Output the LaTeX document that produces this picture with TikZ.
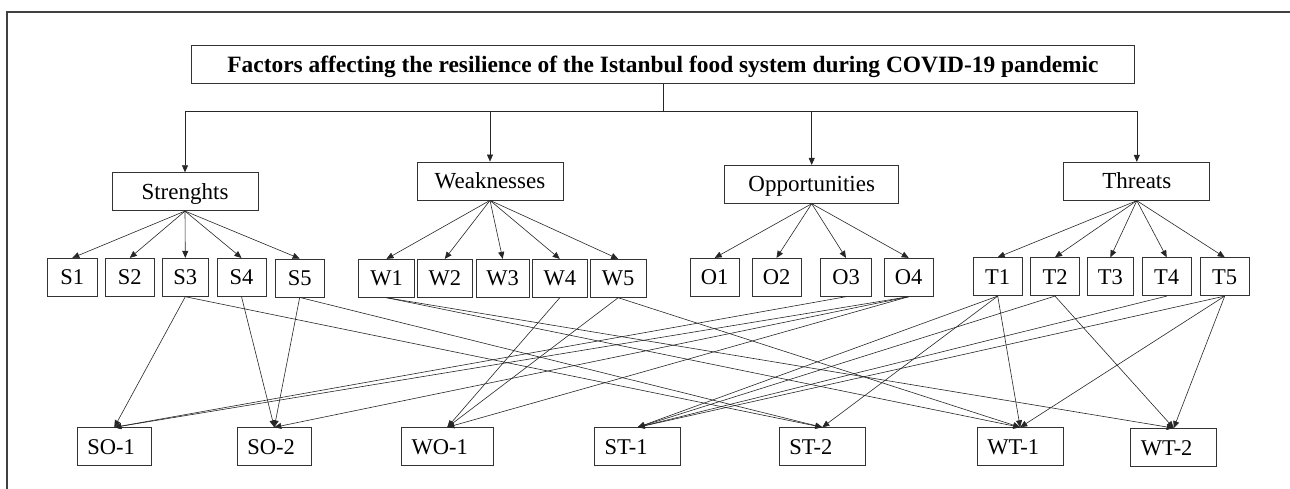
\documentclass[tikz,border=0pt]{standalone}
\usepackage{fontspec}
\setmainfont{Liberation Serif}
\usetikzlibrary{arrows.meta}
\begin{document}
\begin{tikzpicture}[x=1pt,y=-1pt,
  every node/.style={draw=black!80, line width=0.8pt, inner sep=0pt, minimum height=38pt, text height=15pt, text depth=0pt},
  box/.style={minimum width=#1, font=\fontsize{22.5}{26}\selectfont},
  hbox/.style={minimum width=#1, font=\fontsize{23}{27}\selectfont},
  lbox/.style={inner xsep=10pt, text width=#1, align=left, font=\fontsize{22.5}{26}\selectfont},
  conn/.style={line width=0.6pt, draw=black!85},
  arr/.style={conn, -{Triangle[length=7pt,width=6pt]}}]
\useasboundingbox (0,0) rectangle (1290,489);
\draw[line width=1.2pt, black!75] (7,489) -- (7,12) -- (1290,12);
% title
\node[minimum width=942.6pt, minimum height=37.6pt, text height=16pt, font=\bfseries\fontsize{23.4}{28}\selectfont] (title) at (663,64.5)
  {Factors affecting the resilience of the Istanbul food system during COVID-19 pandemic};
% headers
\node[hbox=146pt] (Str) at (185,191.7) {Strenghts};
\node[hbox=146pt] (Wea) at (490,181) {Weaknesses};
\node[hbox=173.8pt] (Opp) at (811.7,184.3) {Opportunities};
\node[hbox=146pt] (Thr) at (1136.8,181.3) {Threats};
% items
\node[box=49.3pt] (S1) at (72.3,277.3) {S1};
\node[box=49pt] (S2) at (129.8,277.3) {S2};
\node[box=46.7pt] (S3) at (185.3,277.3) {S3};
\node[box=49pt] (S4) at (241.5,277.3) {S4};
\node[box=49.3pt] (S5) at (299.7,278) {S5};
\node[box=55.6pt] (W1) at (386.5,278.3) {W1};
\node[box=55pt] (W2) at (444.8,278.3) {W2};
\node[box=52.7pt] (W3) at (502.7,278.3) {W3};
\node[box=55pt] (W4) at (559.8,278.3) {W4};
\node[box=55.7pt] (W5) at (618.2,278.3) {W5};
\node[box=49.3pt] (O1) at (714.7,277.3) {O1};
\node[box=49pt] (O2) at (776.5,277.3) {O2};
\node[box=51.2pt] (O3) at (846,277.3) {O3};
\node[box=49.3pt] (O4) at (908.7,277.3) {O4};
\node[box=49.4pt] (T1) at (997.7,276.7) {T1};
\node[box=49.3pt] (T2) at (1055,276.7) {T2};
\node[box=46.8pt] (T3) at (1110.4,276.7) {T3};
\node[box=49.3pt] (T4) at (1166.7,276.7) {T4};
\node[box=49.3pt] (T5) at (1224.7,276.7) {T5};
% strategies
\node[lbox=54pt] (SO1) at (114.3,446.7) {SO-1};
\node[lbox=54pt] (SO2) at (274.3,446.7) {SO-2};
\node[lbox=71.3pt] (WO1) at (447.3,446.7) {WO-1};
\node[lbox=66pt] (ST1) at (637.7,446.7) {ST-1};
\node[lbox=65.8pt] (ST2) at (822.3,446.7) {ST-2};
\node[lbox=65.7pt] (WT1) at (1020.2,446.7) {WT-1};
\node[lbox=65.8pt] (WT2) at (1173.7,447.5) {WT-2};
% trunk
\coordinate (bus) at (663,111);
\coordinate (bS) at (Str.north |- bus);
\coordinate (bW) at (Wea.north |- bus);
\coordinate (bO) at (Opp.north |- bus);
\coordinate (bT) at (Thr.north |- bus);
\draw[conn] (title.south) -- (bus);
\draw[conn] (bS) -- (bT);
\draw[arr] (bS) -- (Str.north);
\draw[arr] (bW) -- (Wea.north);
\draw[arr] (bO) -- (Opp.north);
\draw[arr] (bT) -- (Thr.north);
% header to items
\foreach \i in {1,...,5} {\draw[arr] (Str.south) -- (S\i.north);}
\foreach \i in {1,...,5} {\draw[arr] (Wea.south) -- (W\i.north);}
\foreach \i in {1,...,4} {\draw[arr] (Opp.south) -- (O\i.north);}
\foreach \i in {1,...,5} {\draw[arr] (Thr.south) -- (T\i.north);}
% items to strategies
\foreach \a/\b in {S3/SO1, S3/ST2, S4/SO2, S5/SO2, S5/ST2,
  W1/WT1, W1/WT2, W4/WO1, W5/WO1, W5/WT1,
  O3/SO1, O4/SO1, O4/SO2, O4/WO1,
  T1/ST1, T1/ST2, T1/WT1, T2/ST1, T2/WT2, T4/ST1, T5/ST1, T5/WT1, T5/WT2}
  {\draw[arr] (\a.south) -- (\b.north);}
\end{tikzpicture}
\end{document}
